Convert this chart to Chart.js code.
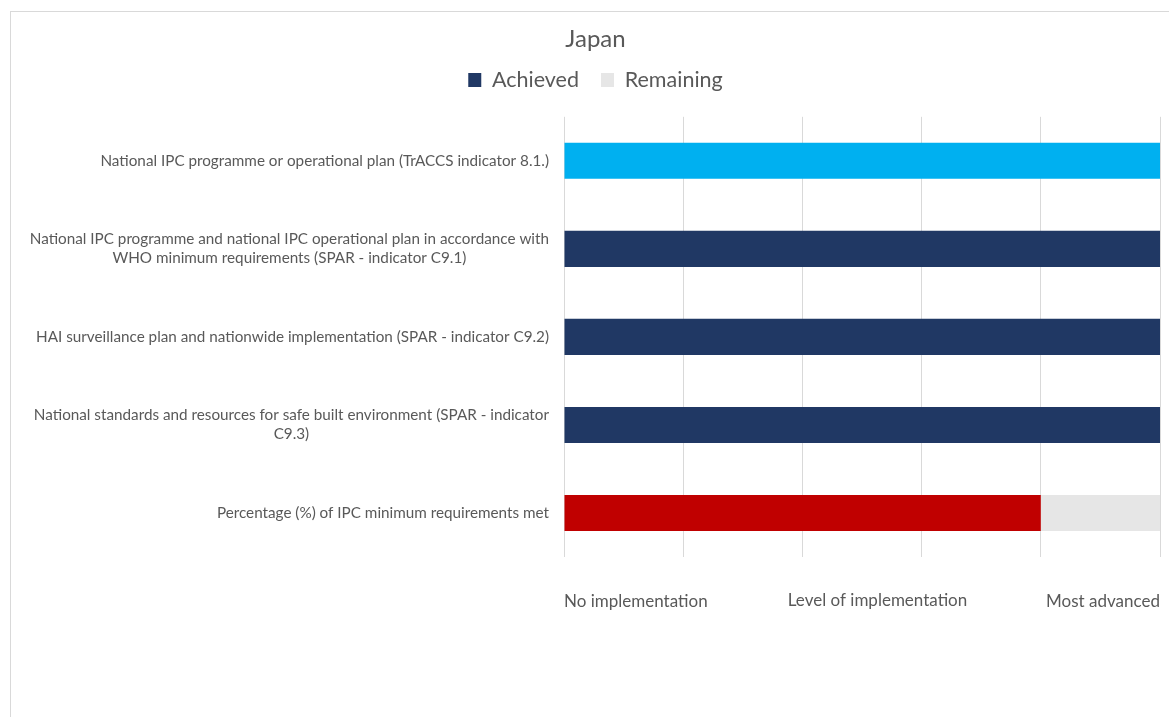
<!DOCTYPE html>
<html>
<head>
<meta charset="utf-8">
<script src="https://cdn.jsdelivr.net/npm/chart.js@4.4.1/dist/chart.umd.min.js"></script>
<style>
  html, body { margin: 0; padding: 0; background: #fff; overflow: hidden; }
  #frame { position: absolute; left: 10px; top: 11px; width: 1170px; height: 720px;
           border-top: 1px solid #d9d9d9; border-left: 1px solid #d9d9d9; box-sizing: border-box; }
  #wrap { position: absolute; left: 0; top: 0; width: 1169px; height: 708px; }
</style>
</head>
<body>
<div id="frame"><div id="wrap"><canvas id="c"></canvas></div></div>
<script>
const chartTitle = 'Japan';
const categories = [
  ['National IPC programme or operational plan (TrACCS indicator 8.1.)'],
  ['National IPC programme and national IPC operational plan in accordance with', 'WHO minimum requirements (SPAR - indicator C9.1)'],
  ['HAI surveillance plan and nationwide implementation (SPAR - indicator C9.2)'],
  ['National standards and resources for safe built environment (SPAR - indicator', 'C9.3)'],
  ['Percentage (%) of IPC minimum requirements met']
];
const achieved = [5, 5, 5, 5, 4];
const remaining = [0, 0, 0, 0, 1];
const achievedColors = ['#00B0F0', '#203864', '#203864', '#203864', '#C00000'];
const xMin = 0, xMax = 5;
const xEndLabels = ['No implementation', 'Most advanced'];
const xMiddleLabel = 'Level of implementation';

const FONT = 'Lato, "Open Sans", sans-serif';

const yLabelPlugin = {
  id: 'yLabels',
  afterInit(chart) {
    const lg = chart.legend;
    if (lg) {
      const orig = lg.fit.bind(lg);
      lg.fit = function () { orig(); this.height += 16; };
    }
  },
  afterDraw(chart) {
    const ctx = chart.ctx, ys = chart.scales.y, area = chart.chartArea;
    ctx.save();
    ctx.font = '15.25px ' + FONT;
    ctx.fillStyle = '#595959';
    ctx.textBaseline = 'middle';
    ctx.textAlign = 'center';
    const lh = 19;
    categories.forEach((lines, i) => {
      const yc = ys.getPixelForValue(i);
      const w = Math.max(...lines.map(l => ctx.measureText(l).width));
      const right = area.left - 15;
      const cx = right - w / 2;
      const y0 = yc - (lines.length - 1) * lh / 2;
      lines.forEach((l, k) => ctx.fillText(l, cx, y0 + k * lh));
    });
    const xs = chart.scales.x;
    ctx.font = '17px ' + FONT;
    ctx.textAlign = 'center';
    ctx.fillText(xMiddleLabel, xs.getPixelForValue(2.63), area.bottom + 44);
    ctx.restore();
  }
};

new Chart(document.getElementById('c'), {
  type: 'bar',
  data: {
    labels: categories.map(c => c.join(' ')),
    datasets: [
      { label: 'Achieved', data: achieved, backgroundColor: achievedColors, borderWidth: 0,
        barPercentage: 0.41, categoryPercentage: 1 },
      { label: 'Remaining', data: remaining, backgroundColor: '#E6E6E6', borderWidth: 0,
        barPercentage: 0.41, categoryPercentage: 1 }
    ]
  },
  options: {
    indexAxis: 'y',
    responsive: true,
    maintainAspectRatio: false,
    animation: false,
    layout: { padding: { top: 13, right: 0, left: 0, bottom: 0 } },
    plugins: {
      title: { display: true, text: chartTitle, color: '#595959',
               font: { family: FONT, size: 24, weight: 'normal' }, padding: { top: 0, bottom: -6.5 } },
      legend: {
        display: true,
        labels: {
          color: '#595959', font: { family: FONT, size: 21.5 },
          boxWidth: 13, boxHeight: 14, padding: 22,
          generateLabels(chart) {
            return chart.data.datasets.map((d, i) => ({
              text: d.label,
              fillStyle: i === 0 ? '#203864' : '#E6E6E6',
              strokeStyle: 'transparent', lineWidth: 0,
              fontColor: '#595959', datasetIndex: i, hidden: false
            }));
          }
        }
      },
      tooltip: { enabled: false }
    },
    scales: {
      x: {
        stacked: true, min: xMin, max: xMax,
        grid: { color: '#D9D9D9', drawTicks: false },
        border: { display: false },
        ticks: {
          stepSize: 1, autoSkip: false, maxRotation: 0, align: 'inner',
          padding: 34, color: '#595959', font: { family: FONT, size: 17 },
          callback: v => v === xMin ? xEndLabels[0] : (v === xMax ? xEndLabels[1] : '')
        },
        afterFit(s) { s.height = 163; s.paddingLeft = 0; s.paddingRight = 20; }
      },
      y: {
        stacked: true,
        grid: { display: false, drawTicks: false },
        border: { display: false },
        ticks: { display: false },
        afterFit(s) { s.width = 553; }
      }
    }
  },
  plugins: [yLabelPlugin]
});
</script>
</body>
</html>
